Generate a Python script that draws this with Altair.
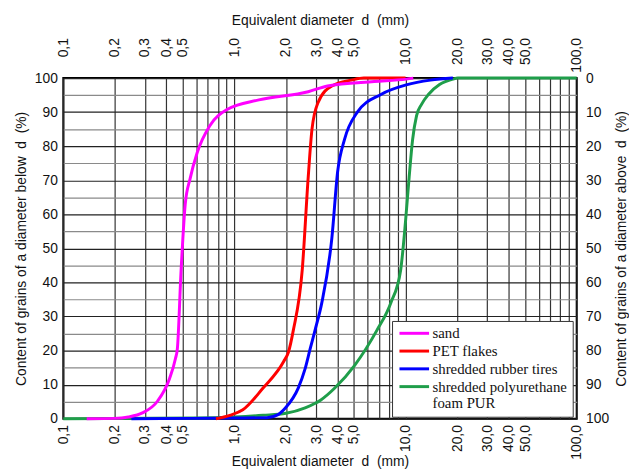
import altair as alt
import pandas as pd

materials = ["sand", "PET flakes", "shredded rubber tires", "shredded polyurethane foam PUR"]
colors = ["#ff00ff", "#ff0000", "#0000ff", "#1f9e4a"]

sand_d = [0.137, 0.20, 0.24, 0.29, 0.356, 0.418, 0.452, 0.464, 0.488, 0.516, 0.551, 0.605, 0.718, 0.90, 1.39, 2.7, 3.5, 6.55, 10.1, 11.1]
sand_p = [0, 0.1, 0.5, 1.7, 5.2, 11.8, 17.6, 20.5, 43.6, 63, 70.5, 78, 86, 90.7, 93.6, 96, 97.7, 99, 99.7, 100]

pet_d = [0.78, 0.94, 1.12, 1.47, 1.94, 2.07, 2.21, 2.49, 2.70, 2.84, 3.08, 3.71, 4.83, 5.7, 10.0]
pet_p = [0, 1.0, 2.6, 9, 16.8, 19.6, 26, 43.6, 71, 85, 92.8, 97.7, 99.4, 100, 100]

rub_d = [0.25, 1.0, 1.55, 1.8, 1.99, 2.36, 2.59, 2.77, 2.96, 3.24, 3.71, 4.01, 4.40, 5.23, 7.18, 10.1, 14.0, 18.9]
rub_p = [0, 0.2, 0.3, 1.2, 3.2, 9, 14.7, 20.5, 26, 34, 53, 72.5, 82, 90, 95.2, 98, 99.4, 100]

pur_d = [0.1, 0.6, 1.0, 1.47, 2.0, 2.59, 3.2, 3.86, 5.03, 6.81, 8.2, 9.36, 10.0, 10.5, 11.0, 11.6, 12.4, 13.6, 15.8, 18.9, 20.2, 100]
pur_p = [0, 0.2, 0.5, 1.0, 1.6, 3.2, 5.5, 9, 15.6, 26, 34, 43.6, 58, 71, 82, 89, 92.3, 95.2, 98.1, 99.7, 100, 100]

label_ticks = [0.1, 0.2, 0.3, 0.4, 0.5, 1, 2, 3, 4, 5, 10, 20, 30, 40, 50, 100]
grid_ticks = [0.1, 0.2, 0.3, 0.4, 0.5, 0.6, 0.7, 0.8, 0.9,
              1, 2, 3, 4, 5, 6, 7, 8, 9,
              10, 20, 30, 40, 50, 60, 70, 80, 90, 100]
left_ticks = list(range(0, 101, 5))
right_ticks = list(range(0, 101, 10))

series = [(materials[0], sand_d, sand_p), (materials[1], pet_d, pet_p),
          (materials[2], rub_d, rub_p), (materials[3], pur_d, pur_p)]
rows = []
for name, ds, ps in reversed(series):
    for i, (d, p) in enumerate(zip(ds, ps)):
        rows.append({"material": name, "d": d, "pct": p, "above": 100 - p, "idx": i})
df = pd.DataFrame(rows)

label_list = "[" + ",".join(str(v) for v in label_ticks) + "]"
x_label_expr = ("indexof(" + label_list + ", datum.value) >= 0 ? "
                "replace(format(datum.value, '.1f'), '.', ',') : ''")

FONT = "Liberation Sans"
common = dict(labelFont=FONT, titleFont=FONT, labelFontSize=14, titleFontSize=14,
              labelColor="#111", titleColor="#111", titleFontWeight="normal",
              ticks=False, domain=False)

xscale = alt.Scale(type="log", domain=[0.1, 100], nice=False)
title_x = "Equivalent diameter\u00a0 d \u00a0(mm)"

main = alt.Chart(df).mark_line(strokeWidth=3, interpolate="monotone").encode(
    x=alt.X("d:Q", scale=xscale,
            axis=alt.Axis(values=grid_ticks, labelExpr=x_label_expr, labelAngle=270,
                          labelOverlap=False, labelFlush=False, labelPadding=6,
                          title=title_x, titleY=36,
                          grid=True, gridColor="#333", gridWidth=1.2, **common)),
    y=alt.Y("pct:Q", scale=alt.Scale(domain=[0, 100], nice=False),
            axis=alt.Axis(values=left_ticks,
                          labelExpr="datum.value % 10 === 0 ? datum.label : ''",
                          labelOverlap=False, labelFlush=False, labelPadding=6,
                          title="Content of grains of a diameter below\u00a0 d \u00a0(%)",
                          titlePadding=6, grid=True, gridWidth=1.2,
                          gridColor={"condition": {"test": "datum.value % 10 === 0", "value": "#222"},
                                     "value": "#8a8a8a"},
                          **common)),
    color=alt.Color("material:N", scale=alt.Scale(domain=materials, range=colors),
                    legend=alt.Legend(title=None, orient="none", legendX=333, legendY=246,
                                      symbolType="M-3,0H3", symbolSize=100, symbolStrokeWidth=3,
                                      symbolOffset=10, labelOffset=11, gridAlign="each",
                                      labelFont="Liberation Serif", labelFontSize=15,
                                      labelColor="#111", labelLimit=0,
                                      rowPadding=2, padding=5, strokeColor="#333",
                                      fillColor="white",
                                      labelExpr="datum.label == 'shredded polyurethane foam PUR' ? ['shredded polyurethane', 'foam PUR'] : datum.label")),
    order="idx:Q",
)

secondary = alt.Chart(df).mark_line(opacity=0, strokeOpacity=0).encode(
    x=alt.X("d:Q", scale=xscale,
            axis=alt.Axis(orient="top", values=label_ticks, labelExpr=x_label_expr,
                          labelAngle=270, labelAlign="right", labelBaseline="middle",
                          labelOverlap=False, labelFlush=False, labelPadding=41,
                          title=title_x, titlePadding=10, grid=False, **common)),
    y=alt.Y("above:Q", scale=alt.Scale(domain=[0, 100], reverse=True, nice=False),
            axis=alt.Axis(orient="right", values=right_ticks, labelOverlap=False,
                          labelFlush=False, labelPadding=9,
                          title="Content of grains of a diameter above\u00a0 d \u00a0(%)",
                          titleAngle=270, titleBaseline="top", titlePadding=6,
                          grid=False, **common)),
    detail="material:N",
)

chart = alt.layer(main, secondary).resolve_scale(x="independent", y="independent").properties(
    width=520, height=345,
    autosize=alt.AutoSizeParams(type="none"),
    padding={"left": 56, "top": 68, "right": 53, "bottom": 52},
).configure_view(stroke="black", strokeWidth=2)

chart.save("out.html", embed_options={"renderer": "svg", "actions": False})
